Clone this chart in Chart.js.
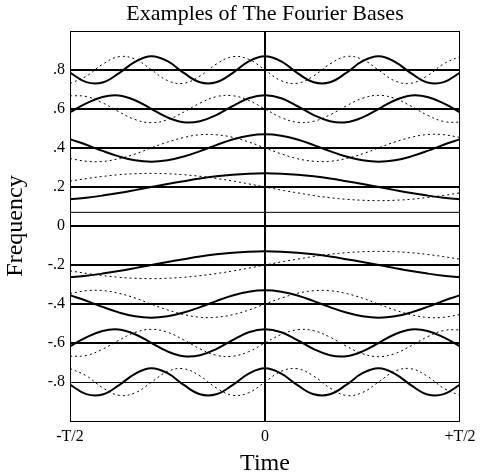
<!DOCTYPE html>
<html>
<head>
<meta charset="utf-8">
<script src="https://cdn.jsdelivr.net/npm/chart.js@4.4.1/dist/chart.umd.min.js"></script>
<style>
  html, body { margin: 0; padding: 0; background: #ffffff; }
</style>
</head>
<body>
<canvas id="myChart" width="499" height="476"></canvas>
<script>
// sample times, from -T/2 to +T/2 (in units of T)
const times = [-0.5, -0.4583, -0.4167, -0.375, -0.3333, -0.2917, -0.25, -0.2083, -0.1667, -0.125, -0.0833, -0.0417, 0,
               0.0417, 0.0833, 0.125, 0.1667, 0.2083, 0.25, 0.2917, 0.3333, 0.375, 0.4167, 0.4583, 0.5];

// frequency levels and their tick labels
const levels = [-0.8, -0.6, -0.4, -0.2, 0, 0.2, 0.4, 0.6, 0.8];
const levelLabels = ['-.8', '-.6', '-.4', '-.2', '0', '.2', '.4', '.6', '.8'];
const timeTicks = [-0.5, 0, 0.5];
const timeLabels = ['-T/2', '0', '+T/2'];

// zero frequency: the cosine is a constant
const dcCos = 0.07;

// cosine (solid) and sine (dotted) basis curves
const cos08 = [.787, .738, .736, .783, .842, .870, .845, .785, .737, .737, .784, .844, .870, .844, .784, .737, .737, .785, .845, .870, .842, .783, .736, .738, .787];
const sin08 = [.731, .768, .829, .868, .856, .802, .746, .732, .769, .830, .868, .855, .800, .745, .732, .770, .831, .869, .854, .799, .744, .732, .771, .832, .869];
const cos06 = [.583, .629, .662, .669, .645, .601, .557, .532, .537, .569, .615, .655, .670, .655, .615, .569, .537, .532, .557, .601, .645, .669, .662, .629, .583];
const sin06 = [.668, .664, .632, .586, .546, .530, .545, .584, .630, .663, .668, .644, .600, .556, .532, .537, .570, .616, .655, .670, .654, .614, .568, .536, .532];
const cos04 = [.445, .417, .385, .357, .337, .330, .337, .356, .384, .415, .444, .463, .470, .463, .444, .415, .384, .356, .337, .330, .337, .357, .385, .417, .445];
const sin04 = [.346, .332, .331, .345, .369, .401, .430, .454, .468, .468, .455, .431, .400, .370, .345, .332, .332, .346, .370, .401, .431, .455, .469, .468, .454];
const cos02 = [.137, .145, .156, .169, .184, .200, .215, .230, .244, .255, .263, .268, .270, .268, .263, .255, .244, .230, .215, .200, .184, .169, .156, .145, .137];
const sin02 = [.230, .243, .254, .263, .268, .270, .268, .263, .255, .244, .231, .216, .200, .184, .170, .156, .145, .137, .132, .130, .132, .137, .146, .157, .170];
const cosM02 = [-.263, -.255, -.244, -.231, -.216, -.200, -.185, -.170, -.156, -.145, -.137, -.132, -.130, -.132, -.137, -.145, -.156, -.170, -.185, -.200, -.216, -.231, -.244, -.255, -.263];
const sinM02 = [-.230, -.243, -.254, -.263, -.268, -.270, -.268, -.263, -.255, -.244, -.231, -.216, -.200, -.184, -.170, -.156, -.145, -.137, -.132, -.130, -.132, -.137, -.146, -.157, -.170];
const cosM04 = [-.355, -.383, -.415, -.443, -.463, -.470, -.463, -.444, -.416, -.385, -.356, -.337, -.330, -.337, -.356, -.385, -.416, -.444, -.463, -.470, -.463, -.443, -.415, -.383, -.355];
const sinM04 = [-.346, -.332, -.331, -.345, -.369, -.401, -.430, -.454, -.468, -.468, -.455, -.431, -.400, -.370, -.345, -.332, -.332, -.346, -.370, -.401, -.431, -.455, -.469, -.468, -.454];
const cosM06 = [-.617, -.571, -.538, -.531, -.555, -.599, -.643, -.668, -.663, -.631, -.585, -.545, -.530, -.545, -.585, -.631, -.663, -.668, -.643, -.599, -.555, -.531, -.538, -.571, -.617];
const sinM06 = [-.668, -.664, -.632, -.586, -.546, -.530, -.545, -.584, -.630, -.663, -.668, -.644, -.600, -.556, -.532, -.537, -.570, -.616, -.655, -.670, -.654, -.614, -.568, -.536, -.532];
const cosM08 = [-.813, -.862, -.864, -.817, -.758, -.730, -.755, -.815, -.863, -.863, -.816, -.757, -.730, -.757, -.816, -.863, -.863, -.815, -.755, -.730, -.758, -.817, -.864, -.862, -.813];
const sinM08 = [-.731, -.768, -.829, -.868, -.856, -.802, -.746, -.732, -.769, -.830, -.868, -.855, -.800, -.745, -.732, -.770, -.831, -.869, -.854, -.799, -.744, -.732, -.771, -.832, -.869];

const cosCurves = [cos08, cos06, cos04, cos02, cosM02, cosM04, cosM06, cosM08];
const sinCurves = [sin08, sin06, sin04, sin02, sinM02, sinM04, sinM06, sinM08];

function puntos(valores) {
  return valores.map((v, i) => ({ x: times[i], y: v }));
}

const datasets = [];
cosCurves.forEach((c) => {
  datasets.push({ data: puntos(c), borderColor: '#000', borderWidth: 2, pointRadius: 0, tension: 0.4 });
});
sinCurves.forEach((s) => {
  datasets.push({ data: puntos(s), borderColor: '#000', borderWidth: 1, borderDash: [2, 3], pointRadius: 0, tension: 0.4 });
});
// constant (zero frequency) cosine
datasets.push({ data: [{ x: times[0], y: dcCos }, { x: times[times.length - 1], y: dcCos }], borderColor: '#000', borderWidth: 1, pointRadius: 0 });

// frame around the plot
const marco = {
  id: 'marco',
  afterDraw(chart) {
    const a = chart.chartArea;
    const ctx = chart.ctx;
    ctx.save();
    ctx.strokeStyle = '#000';
    ctx.lineWidth = 1;
    ctx.strokeRect(a.left + 0.5, a.top + 0.5, a.right - a.left - 1, a.bottom - a.top);
    ctx.restore();
  }
};

const serif = 'Liberation Serif';

new Chart(document.getElementById('myChart'), {
  type: 'line',
  data: { datasets: datasets },
  plugins: [marco],
  options: {
    responsive: false,
    animation: false,
    devicePixelRatio: 1,
    layout: { padding: { left: 0, right: 39, top: 0, bottom: 0 } },
    plugins: {
      legend: { display: false },
      tooltip: { enabled: false },
      title: {
        display: true,
        fullSize: false,
        text: 'Examples of The Fourier Bases',
        color: '#000',
        font: { family: serif, size: 22, weight: 'normal', lineHeight: 1 },
        padding: { top: 3, bottom: 6 }
      }
    },
    scales: {
      x: {
        type: 'linear',
        min: -0.5,
        max: 0.5,
        afterFit: (s) => { s.height = 55; },
        afterBuildTicks: (s) => { s.ticks = timeTicks.map(v => ({ value: v })); },
        ticks: {
          color: '#000',
          font: { family: serif, size: 16 },
          padding: 6,
          maxRotation: 0,
          callback: (v) => timeLabels[timeTicks.indexOf(v)]
        },
        grid: {
          drawTicks: false,
          color: (c) => (c.tick && c.tick.value === 0 ? '#000' : 'rgba(0,0,0,0)'),
          lineWidth: 2
        },
        border: { display: false },
        title: {
          display: true,
          text: 'Time',
          color: '#000',
          font: { family: serif, size: 24, lineHeight: 1 },
          padding: { top: 0, bottom: 0 }
        }
      },
      y: {
        type: 'linear',
        min: -1,
        max: 1,
        afterFit: (s) => { s.width = 70; },
        afterBuildTicks: (s) => { s.ticks = levels.map(v => ({ value: v })); },
        ticks: {
          color: '#000',
          font: { family: serif, size: 16 },
          padding: 5,
          callback: (v) => levelLabels[levels.indexOf(v)]
        },
        grid: {
          drawTicks: false,
          color: '#000',
          lineWidth: (c) => (c.tick && c.tick.value === -0.8 ? 1 : 2)
        },
        border: { display: false },
        title: {
          display: true,
          text: 'Frequency',
          color: '#000',
          font: { family: serif, size: 24, lineHeight: 1 },
          padding: { top: 4, bottom: 0 }
        }
      }
    }
  }
});
</script>
</body>
</html>
